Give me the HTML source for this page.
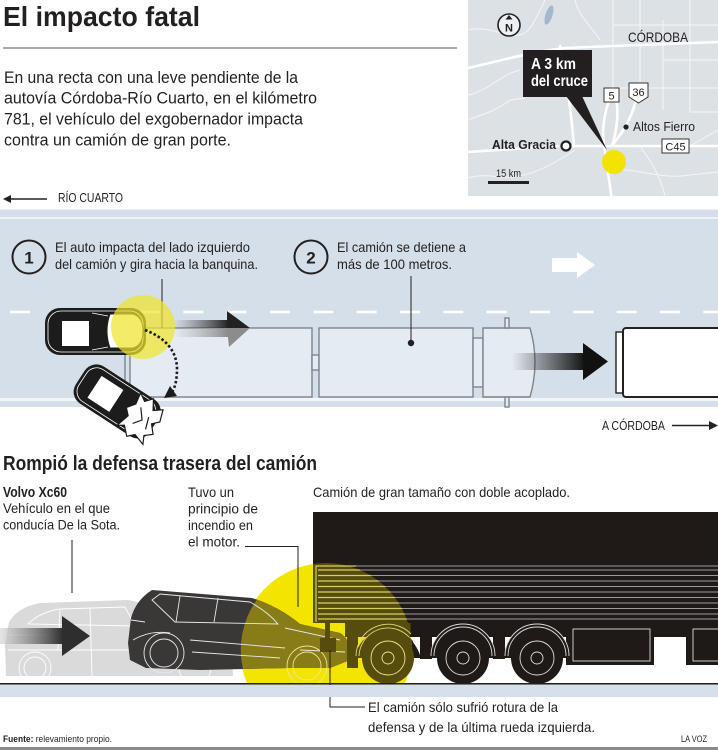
<!DOCTYPE html>
<html><head><meta charset="utf-8"><style>
html,body{margin:0;padding:0;background:#fff;}
svg{display:block;}
text{font-family:"Liberation Sans",sans-serif;fill:#231f20;}
</style></head><body>
<svg width="718" height="750" viewBox="0 0 718 750" xmlns="http://www.w3.org/2000/svg">
<defs>
 <linearGradient id="gc" x1="0" x2="1"><stop offset="0" stop-color="#555" stop-opacity="0"/><stop offset="1" stop-color="#1e1e1e"/></linearGradient>
 <linearGradient id="gc2" x1="0" x2="1"><stop offset="0" stop-color="#aaa" stop-opacity="0"/><stop offset="1" stop-color="#8a8a8a"/></linearGradient>
 <linearGradient id="gt" x1="0" x2="1"><stop offset="0" stop-color="#222" stop-opacity="0"/><stop offset="1" stop-color="#111"/></linearGradient>
 <linearGradient id="gg" x1="0" x2="1"><stop offset="0" stop-color="#d4d4d4" stop-opacity="0.6"/><stop offset="1" stop-color="#2e2e2e"/></linearGradient>
 <clipPath id="map"><rect x="468" y="0" width="250" height="196"/></clipPath>
</defs>

<!-- Title -->
<text x="3" y="26" font-size="28" font-weight="bold" textLength="197" lengthAdjust="spacingAndGlyphs">El impacto fatal</text>
<line x1="3" y1="48" x2="457" y2="48" stroke="#555" stroke-width="1"/>
<g font-size="16.5">
<text x="4" y="83" textLength="294" lengthAdjust="spacingAndGlyphs">En una recta con una leve pendiente de la</text>
<text x="4" y="103.5" textLength="313" lengthAdjust="spacingAndGlyphs">autovía Córdoba-Río Cuarto, en el kilómetro</text>
<text x="4" y="124.5" textLength="299" lengthAdjust="spacingAndGlyphs">781, el vehículo del exgobernador impacta</text>
<text x="4" y="145.5" textLength="227" lengthAdjust="spacingAndGlyphs">contra un camión de gran porte.</text>
</g>
<line x1="10" y1="199" x2="47" y2="199" stroke="#222" stroke-width="1.5"/>
<polygon points="3,199 11,195 11,203" fill="#222"/>
<text x="58" y="202" font-size="12.5" textLength="65" lengthAdjust="spacingAndGlyphs">RÍO CUARTO</text>

<!-- Map -->
<g clip-path="url(#map)">
<rect x="468" y="0" width="250" height="196" fill="#dce1e6"/>
<g fill="none" stroke="#f4f6f8" stroke-width="1">
 <path d="M613,0 V88 H718"/>
 <path d="M663,60 H718 M663,20 V88 M690,0 V88 M613,25 H718 M640,0 V88"/>
 <path d="M663,88 V110 M690,88 V112 H718"/>
 <path d="M468,30 C490,25 505,38 520,35 C530,33 535,20 545,0"/>
 <path d="M468,95 C490,90 500,75 520,70"/>
 <path d="M468,120 C480,115 495,112 510,100 L525,98"/>
 <path d="M468,178 C485,172 500,180 520,176 C540,172 560,160 575,150"/>
 <path d="M612,170 C640,168 660,180 690,175 L718,172"/>
 <path d="M640,146 C650,160 660,175 665,196"/>
 <path d="M575,0 C578,15 590,25 600,40"/>
 <path d="M690,146 L718,130"/>
</g>
<g fill="none" stroke="#fff" stroke-width="2.6" stroke-linecap="round">
 <path d="M468,68 C495,62 530,52 565,48 L613,46 L718,42"/>
 <path d="M613,88 C606,108 601,125 604,145 L612,200"/>
 <path d="M570,146 L718,146"/>
 <path d="M468,152 L558,146"/>
 <path d="M638,88 C636,105 630,120 622,132 L612,146"/>
 <path d="M560,46 C565,70 570,100 574,146"/>
 <path d="M612,146 C620,120 618,100 613,88"/>
</g>
<ellipse cx="549" cy="15" rx="3.5" ry="10" transform="rotate(18 549 15)" fill="#a4b8cd"/>
</g>
<!-- compass -->
<circle cx="509" cy="25" r="11" fill="#eef0f2" stroke="#222" stroke-width="1.6"/>
<polygon points="509,15 505.5,19.5 512.5,19.5" fill="#222"/>
<text x="509" y="31.5" font-size="11" font-weight="bold" text-anchor="middle">N</text>
<text x="628" y="42" font-size="14" textLength="60" lengthAdjust="spacingAndGlyphs">CÓRDOBA</text>
<!-- callout -->
<polygon points="566,96 582,96 607,150" fill="#231f20"/>
<rect x="523" y="50" width="69" height="47" fill="#231f20"/>
<text x="531" y="69" font-size="15.5" font-weight="bold" style="fill:#fff" textLength="45" lengthAdjust="spacingAndGlyphs">A 3 km</text>
<text x="531" y="86" font-size="15.5" font-weight="bold" style="fill:#fff" textLength="57" lengthAdjust="spacingAndGlyphs">del cruce</text>
<!-- shields -->
<rect x="604" y="88" width="15" height="14" fill="#fff" stroke="#333" stroke-width="1"/>
<text x="611.5" y="99.5" font-size="11" text-anchor="middle">5</text>
<path d="M629,83 H648 V97 L638.5,103 L629,97 Z" fill="#fff" stroke="#333" stroke-width="1"/>
<text x="638.5" y="96" font-size="11" text-anchor="middle">36</text>
<circle cx="626" cy="127" r="2.6" fill="#222"/>
<text x="633" y="131" font-size="13" textLength="62" lengthAdjust="spacingAndGlyphs">Altos Fierro</text>
<text x="492" y="149" font-size="13" font-weight="bold" textLength="64" lengthAdjust="spacingAndGlyphs">Alta Gracia</text>
<circle cx="566" cy="146" r="4.5" fill="#fff" stroke="#222" stroke-width="2.2"/>
<rect x="662" y="139" width="27" height="14" fill="#fff" stroke="#333" stroke-width="1"/>
<text x="675.5" y="150.5" font-size="11" text-anchor="middle">C45</text>
<circle cx="614" cy="162" r="12" fill="#f2e400"/>
<text x="496" y="177" font-size="11" textLength="25" lengthAdjust="spacingAndGlyphs">15 km</text>
<rect x="488" y="181" width="41" height="3" fill="#222"/>

<!-- Road plan view -->
<rect x="0" y="209" width="718" height="198" fill="#d5dfe9"/>
<rect x="0" y="209" width="718" height="1" fill="#eef2f6"/>
<rect x="0" y="217" width="718" height="2" fill="#eef3f8"/>
<rect x="0" y="398" width="718" height="3" fill="#f3f6f9"/>
<line x1="10" y1="312" x2="718" y2="312" stroke="#fff" stroke-width="2.6" stroke-dasharray="20 23.33"/>

<circle cx="29" cy="257" r="16.5" fill="none" stroke="#231f20" stroke-width="2"/>
<text x="29" y="263.5" font-size="17" font-weight="bold" text-anchor="middle">1</text>
<text x="55" y="252" font-size="14" textLength="195" lengthAdjust="spacingAndGlyphs">El auto impacta del lado izquierdo</text>
<text x="55" y="269" font-size="14" textLength="203" lengthAdjust="spacingAndGlyphs">del camión y gira hacia la banquina.</text>
<circle cx="311" cy="257" r="16.5" fill="none" stroke="#231f20" stroke-width="2"/>
<text x="311" y="263.5" font-size="17" font-weight="bold" text-anchor="middle">2</text>
<text x="337" y="252" font-size="14" textLength="129" lengthAdjust="spacingAndGlyphs">El camión se detiene a</text>
<text x="337" y="269" font-size="14" textLength="115" lengthAdjust="spacingAndGlyphs">más de 100 metros.</text>

<!-- white arrow -->
<polygon points="552,258 577,258 577,252 595,265 577,278 577,272 552,272" fill="#fff"/>

<!-- truck plan -->
<g fill="#e4ebf2" stroke="#7d848b" stroke-width="1.4">
 <rect x="130" y="328" width="182" height="69"/>
 <rect x="312" y="355" width="7" height="15"/>
 <rect x="319" y="328" width="154" height="69"/>
 <rect x="473" y="338" width="10" height="49"/>
 <path d="M483,328 H530 Q540,362 530,397 H483 Z"/>
 <rect x="505" y="318" width="4" height="10"/>
 <rect x="505" y="397" width="4" height="10"/>
</g>
<path d="M131,332 H125 V397" fill="none" stroke="#7d848b" stroke-width="1.4"/>
<line x1="411" y1="276" x2="411" y2="343" stroke="#231f20" stroke-width="1"/>
<circle cx="411" cy="343" r="3.2" fill="#231f20"/>
<line x1="162" y1="279" x2="162" y2="328" stroke="#231f20" stroke-width="1"/>

<!-- truck arrow -->
<rect x="512" y="353" width="73" height="17" fill="url(#gt)"/>
<polygon points="583,343 608,361.5 583,380" fill="#111"/>

<!-- right vehicle -->
<rect x="616" y="332" width="7" height="61" fill="#fff" stroke="#222" stroke-width="1.4"/>
<rect x="623" y="328" width="100" height="69" rx="3" fill="#fff" stroke="#222" stroke-width="2"/>

<!-- car arrow -->
<rect x="173" y="320" width="56" height="8" fill="url(#gc)"/>
<rect x="173" y="328" width="56" height="9" fill="url(#gc2)"/>
<polygon points="227,311 250,328 227,328" fill="#222"/>
<polygon points="227,328 250,328 229,347" fill="#8c8c8c"/>

<!-- car 1 top -->
<g>
 <rect x="45" y="308" width="101" height="47" rx="15" fill="#1c1c1c"/>
 <rect x="48" y="311" width="95" height="41" rx="13" fill="none" stroke="#fff" stroke-width="0.8"/>
 <rect x="62" y="321" width="27" height="25" fill="#fff"/>
 <path d="M110,314 H132 Q143,316 143,331 Q143,346 132,348 H110 Q104,331 110,314 Z" fill="#fff" stroke="#222" stroke-width="1"/>
 <path d="M92,313 L108,316 M92,350 L108,347" stroke="#fff" stroke-width="0.8"/>
</g>
<!-- crashed car -->
<g transform="translate(118,402) rotate(33)">
 <rect x="-45" y="-22" width="88" height="44" rx="14" fill="#1c1c1c"/>
 <rect x="-42" y="-19" width="80" height="38" rx="12" fill="none" stroke="#fff" stroke-width="0.8"/>
 <rect x="-28" y="-13" width="26" height="26" fill="#fff"/>
 <path d="M14,-20 L22,-15 L28,-22 L34,-12 L42,-18 L46,-6 L40,0 L47,8 L40,14 L44,22 L32,18 L26,24 L18,16 L12,20 L16,6 L10,0 L16,-8 Z" fill="#fff" stroke="#1c1c1c" stroke-width="1.2"/>
 <path d="M22,-8 L30,2 L24,10 M34,-4 L38,8" stroke="#1c1c1c" stroke-width="1.2" fill="none"/>
</g>
<!-- yellow impact circle -->
<circle cx="143" cy="327" r="32" fill="#efe52c" fill-opacity="0.72"/>
<!-- dotted arrow -->
<path d="M145,330 Q176,342 177,368 Q177,385 172,392" fill="none" stroke="#1c1c1c" stroke-width="2.6" stroke-dasharray="2.5 2.2"/>
<polygon points="164,398 177,396 170,386" fill="#1c1c1c"/>

<text x="602" y="430" font-size="12.5" textLength="63" lengthAdjust="spacingAndGlyphs">A CÓRDOBA</text>
<line x1="672" y1="425.5" x2="710" y2="425.5" stroke="#222" stroke-width="1.5"/>
<polygon points="718,425.5 709,421 709,430" fill="#222"/>

<!-- Section 2 -->
<text x="3" y="470" font-size="20.5" font-weight="bold" textLength="314" lengthAdjust="spacingAndGlyphs">Rompió la defensa trasera del camión</text>
<text x="3" y="497" font-size="15" font-weight="bold" textLength="64" lengthAdjust="spacingAndGlyphs">Volvo Xc60</text>
<text x="3" y="513" font-size="14" textLength="107" lengthAdjust="spacingAndGlyphs">Vehículo en el que</text>
<text x="3" y="529.5" font-size="14" textLength="117" lengthAdjust="spacingAndGlyphs">conducía De la Sota.</text>
<line x1="72" y1="540" x2="72" y2="593" stroke="#231f20" stroke-width="1"/>
<g font-size="14">
<text x="188" y="497" textLength="46" lengthAdjust="spacingAndGlyphs">Tuvo un</text>
<text x="188" y="513.5" textLength="70" lengthAdjust="spacingAndGlyphs">principio de</text>
<text x="188" y="530" textLength="65" lengthAdjust="spacingAndGlyphs">incendio en</text>
<text x="188" y="546.5" textLength="52" lengthAdjust="spacingAndGlyphs">el motor.</text>
<text x="313" y="497" textLength="257" lengthAdjust="spacingAndGlyphs">Camión de gran tamaño con doble acoplado.</text>
</g>

<!-- base yellow circle -->
<path d="M247.4,684 A86,86 0 1 1 404.6,684 Z" fill="#f4e500"/>

<!-- ghost car -->
<g>
 <path d="M6,676 L5,645 L9,622 Q18,607 40,603 L128,600 Q150,604 175,616 L230,628 L233,676 Z" fill="#dadada"/>
 <g fill="none" stroke="#fff" stroke-width="0.9">
  <path d="M28,624 Q40,612 60,609 L125,607 L135,626 Z"/>
  <path d="M90,608 L92,676 M60,610 L58,650"/>
  <path d="M8,650 H230 M10,635 H60"/>
  <circle cx="35" cy="668" r="16"/><circle cx="35" cy="668" r="11"/>
  <circle cx="195" cy="668" r="16"/>
 </g>
</g>
<!-- ghost arrow -->
<rect x="0" y="628" width="63" height="16" fill="url(#gg)"/>
<polygon points="62,616 90,636 62,656" fill="#2e2e2e"/>

<!-- dark car -->
<path d="M128,643 L131,618 Q136,600 152,590 L252,598 Q278,606 300,624 L340,633 Q352,640 350,660 L330,668 L290,668 L200,670 L146,668 L130,660 Z" fill="#3a3737"/>
<!-- tinted front part of car inside the yellow circle -->
<path d="M257,599.5 Q279,607.5 300,624 L340,633 Q352,640 350,660 L330,668 L290,668 L243,669 A86,86 0 0 1 257,599.5 Z" fill="#877c17"/>
<g fill="none" stroke="#e8e8e8" stroke-width="0.9">
 <path d="M152,600 L160,594 L250,602 Q268,612 278,624 L175,622 Z"/>
 <path d="M218,598 L214,622 M180,596 L176,622"/>
 <path d="M131,620 L145,622 M133,640 Q150,630 170,633"/>
 <path d="M190,640 L285,648 M192,652 L280,658"/>
 <path d="M285,628 L340,640 M300,650 L345,652"/>
 <circle cx="164" cy="653" r="20"/><circle cx="164" cy="653" r="14"/>
</g>
<g fill="none" stroke="#efe68e" stroke-width="0.9">
 <circle cx="307" cy="666" r="20"/><circle cx="307" cy="666" r="14"/>
</g>

<!-- truck side -->
<g fill="#1f1a17">
 <rect x="313" y="512" width="405" height="111"/>
 <rect x="345" y="623" width="373" height="14"/>
 <rect x="420" y="635" width="12" height="24"/>
 <rect x="493" y="635" width="12" height="24"/>
 <rect x="566" y="623" width="88" height="42"/>
 <rect x="686" y="623" width="40" height="42"/>
 <path d="M430,658 A33,33 0 0 1 496,658 Z"/>
 <path d="M504,658 A33,33 0 0 1 570,658 Z"/>
</g>
<!-- tinted truck parts inside circle -->
<g fill="#564c0d">
 <path d="M313,564 A86,86 0 0 1 408,623 L313,623 Z"/>
 <path d="M345,623 H410.5 Q411,630 410,637 H345 Z"/>
 <rect x="347" y="623" width="11" height="45"/>
 <rect x="325" y="623" width="5" height="16"/>
 <rect x="320" y="638" width="16" height="14"/>
 <path d="M355,658 A33,33 0 0 1 413,641 L412,658 Z"/>
</g>
<path d="M410.5,623 H420 V637 H410 Q411,630 410.5,623 Z" fill="#1f1a17"/>
<path d="M412,641 Q418,648 421,658 H412 Z" fill="#1f1a17"/>
<g stroke="#9c9c9c" stroke-width="0.9" fill="none">
 <path d="M318,570 H718 M318,575.5 H718 M318,581 H718 M318,586.5 H718 M318,592 H718 M318,597.5 H718 M318,603 H718 M318,608.5 H718 M318,614 H718 M318,619 H718"/>
 <path d="M316,566 H718"/>
 <rect x="573" y="629" width="77" height="32" stroke="#ddd"/>
 <rect x="693" y="629" width="40" height="32" stroke="#ddd"/>
</g>
<g stroke="#d9cf6a" stroke-width="1.2" fill="none">
 <path d="M318,570 H360 M318,575.5 H370.7 M318,581 H378.6 M318,586.5 H385 M318,592 H390.4 M318,597.5 H394.9 M318,603 H398.7 M318,608.5 H401.9 M318,614 H404.6 M318,619 H406.6"/>
 <path d="M316,622 V566 H356"/>
</g>
<g fill="none" stroke="#ddd" stroke-width="0.9">
 <path d="M431,656 A32,32 0 0 1 495,656"/><path d="M434,656 A29,29 0 0 1 492,656"/>
 <path d="M505,656 A32,32 0 0 1 569,656"/><path d="M508,656 A29,29 0 0 1 566,656"/>
</g>
<g fill="none" stroke="#e3d97a" stroke-width="0.9">
 <path d="M356,656 A32,32 0 0 1 411,634"/><path d="M359,656 A29,29 0 0 1 409,637"/>
</g>
<circle cx="388" cy="658" r="26" fill="#564c0d"/>
<circle cx="463" cy="658" r="26" fill="#1f1a17"/>
<circle cx="537" cy="658" r="26" fill="#1f1a17"/>
<g fill="none" stroke="#ddd" stroke-width="0.9">
 <circle cx="463" cy="658" r="17"/><circle cx="463" cy="658" r="6"/>
 <circle cx="537" cy="658" r="17"/><circle cx="537" cy="658" r="6"/>
</g>
<g fill="none" stroke="#efe68e" stroke-width="0.9">
 <circle cx="388" cy="658" r="17"/><circle cx="388" cy="658" r="6"/>
</g>

<!-- leader lines -->
<path d="M245,546.5 H298 V607" fill="none" stroke="#231f20" stroke-width="1"/>
<path d="M330,650 V707 H365" fill="none" stroke="#231f20" stroke-width="1"/>

<!-- ground -->
<rect x="0" y="683" width="718" height="1.6" fill="#231f20"/>
<rect x="0" y="685" width="718" height="12" fill="#d6e0ea"/>

<text x="368" y="712" font-size="14" textLength="190" lengthAdjust="spacingAndGlyphs">El camión sólo sufrió rotura de la</text>
<text x="368" y="732" font-size="14" textLength="227" lengthAdjust="spacingAndGlyphs">defensa y de la última rueda izquierda.</text>

<text x="3" y="742" font-size="9.5" textLength="109" lengthAdjust="spacingAndGlyphs"><tspan font-weight="bold">Fuente:</tspan> relevamiento propio.</text>
<text x="681" y="742" font-size="9.5" textLength="26" lengthAdjust="spacingAndGlyphs">LA VOZ</text>
<rect x="0" y="747" width="718" height="3" fill="#8a8a8a"/>
</svg>
</body></html>
